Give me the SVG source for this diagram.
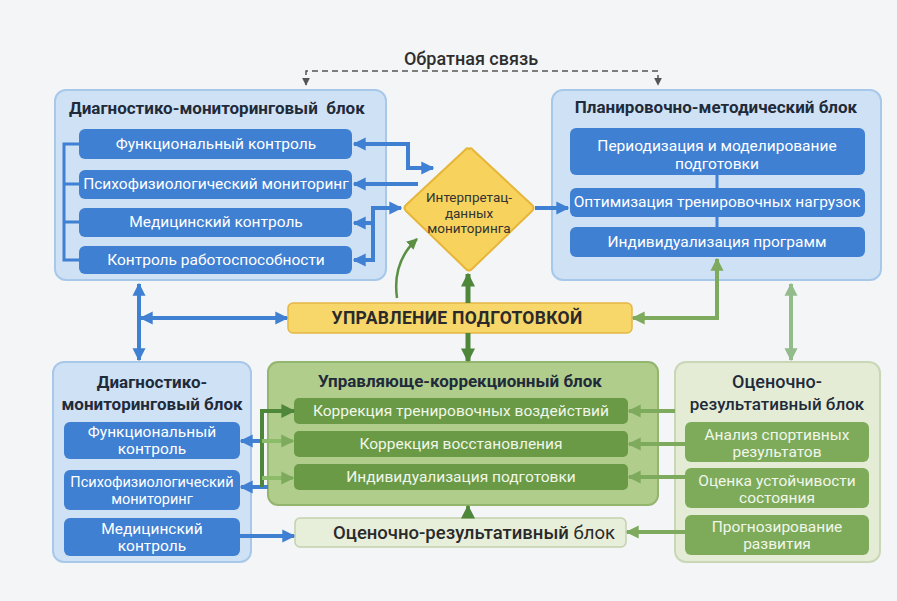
<svg xmlns="http://www.w3.org/2000/svg" width="897" height="601" viewBox="0 0 897 601">
<defs>
<style>
text{font-family:Roboto,"Open Sans","DejaVu Sans",sans-serif;text-anchor:middle}
.ttl{font-size:17px;font-weight:700;fill:#1f2b3a}
.it{font-size:15.5px;fill:#ffffff}
.itg{font-size:15.5px;fill:#f1f6ea}
.blueBlock{fill:#cfe1f5;stroke:#a8c8ea;stroke-width:2}
.blueItem{fill:#3f80d3}
.bl{fill:none;stroke:#3f80d3;stroke-width:4}
.dg{fill:none;stroke:#4f873a;stroke-width:5}
.lg{fill:none;stroke:#7daa5c;stroke-width:4}
</style>
<marker id="ab" viewBox="0 0 10 10" refX="9" refY="5" markerWidth="13" markerHeight="14" markerUnits="userSpaceOnUse" orient="auto-start-reverse"><path d="M0,0 L10,5 L0,10 Z" fill="#3f80d3"/></marker>
<marker id="adg" viewBox="0 0 10 10" refX="9" refY="5" markerWidth="14" markerHeight="15" markerUnits="userSpaceOnUse" orient="auto-start-reverse"><path d="M0,0 L10,5 L0,10 Z" fill="#4f873a"/></marker>
<marker id="adg2" viewBox="0 0 10 10" refX="9" refY="5" markerWidth="11" markerHeight="12" markerUnits="userSpaceOnUse" orient="auto-start-reverse"><path d="M0,0 L10,5 L0,10 Z" fill="#5a8f44"/></marker>
<marker id="alg" viewBox="0 0 10 10" refX="9" refY="5" markerWidth="13" markerHeight="14" markerUnits="userSpaceOnUse" orient="auto-start-reverse"><path d="M0,0 L10,5 L0,10 Z" fill="#7daa5c"/></marker>
<marker id="alg2" viewBox="0 0 10 10" refX="9" refY="5" markerWidth="13" markerHeight="14" markerUnits="userSpaceOnUse" orient="auto-start-reverse"><path d="M0,0 L10,5 L0,10 Z" fill="#93bb8c"/></marker>
<marker id="agr" viewBox="0 0 10 10" refX="9" refY="5" markerWidth="8" markerHeight="9" markerUnits="userSpaceOnUse" orient="auto-start-reverse"><path d="M0,0 L10,5 L0,10 Z" fill="#555"/></marker>
</defs>
<rect x="0" y="0" width="897" height="601" fill="#f4f5f7"/>

<text x="471" y="65" style="font-size:18px;font-weight:500;fill:#2e2e2e">Обратная связь</text>

<!-- Top-left block -->
<g id="diag-top">
<rect class="blueBlock" x="55" y="90" width="331" height="190" rx="11"/>
<text class="ttl" x="69" y="114" style="text-anchor:start;white-space:pre">Диагностико-мониторинговый  блок</text>
<g id="diag-top-1"><rect class="blueItem" x="79" y="129" width="273" height="30" rx="6"/><text class="it" x="216" y="149">Функциональный контроль</text></g>
<g id="diag-top-2"><rect class="blueItem" x="79" y="170" width="273" height="29" rx="6"/><text class="it" x="216" y="189">Психофизиологический мониторинг</text></g>
<g id="diag-top-3"><rect class="blueItem" x="79" y="208" width="273" height="29" rx="6"/><text class="it" x="216" y="227">Медицинский контроль</text></g>
<g id="diag-top-4"><rect class="blueItem" x="79" y="246" width="273" height="28" rx="6"/><text class="it" x="216" y="265">Контроль работоспособности</text></g>
</g>

<!-- Diamond -->
<g id="interp">
<path d="M469,149 Q471,147 473,150 L532,205 Q535,208 532,211 L472,269 Q469,272 466,269 L406,211 Q403,208 406,205 L465,150 Q467,147 469,149 Z" fill="#f7d25c" stroke="#e6b63a" stroke-width="2"/>
<text x="469" y="202" style="font-size:13.5px;fill:#333">Интерпретац-</text>
<text x="469" y="218" style="font-size:13.5px;fill:#333">данных</text>
<text x="469" y="233" style="font-size:13.5px;fill:#333">мониторинга</text>
</g>

<!-- Top-right block -->
<g id="plan">
<rect class="blueBlock" x="552" y="90" width="329" height="190" rx="11"/>
<text class="ttl" x="716" y="113">Планировочно-методический блок</text>
<line x1="717" y1="170" x2="717" y2="232" stroke="#3f80d3" stroke-width="3"/>
<g id="plan-1"><rect class="blueItem" x="570" y="128" width="295" height="47" rx="6"/><text class="it" x="717" y="151">Периодизация и моделирование</text><text class="it" x="717" y="169">подготовки</text></g>
<g id="plan-2"><rect class="blueItem" x="570" y="188" width="295" height="29" rx="6"/><text class="it" x="717" y="207">Оптимизация тренировочных нагрузок</text></g>
<g id="plan-3"><rect class="blueItem" x="570" y="227" width="295" height="30" rx="6"/><text class="it" x="717" y="247">Индивидуализация программ</text></g>
</g>

<!-- Middle bar -->
<g id="control">
<rect x="288" y="303" width="344" height="30" rx="5" fill="#f7d66a" stroke="#e4b746" stroke-width="1.5"/>
<text x="457" y="324" style="font-size:17.5px;font-weight:700;fill:#2a2a2a;letter-spacing:0.3px">УПРАВЛЕНИЕ ПОДГОТОВКОЙ</text>
</g>

<!-- Bottom-left block -->
<g id="diag-bottom">
<rect class="blueBlock" x="53" y="362" width="198" height="200" rx="11"/>
<text class="ttl" x="152" y="388">Диагностико-</text>
<text class="ttl" x="152" y="410">мониторинговый блок</text>
<g id="diag-bottom-1"><rect class="blueItem" x="64" y="422" width="176" height="37" rx="6"/><text class="it" x="152" y="437">Функциональный</text><text class="it" x="152" y="454">контроль</text></g>
<g id="diag-bottom-2"><rect class="blueItem" x="64" y="470" width="176" height="40" rx="6"/><text class="it" x="152" y="487" style="font-size:14.5px">Психофизиологический</text><text class="it" x="152" y="504" style="font-size:14.5px">мониторинг</text></g>
<g id="diag-bottom-3"><rect class="blueItem" x="64" y="518" width="176" height="38" rx="6"/><text class="it" x="152" y="534">Медицинский</text><text class="it" x="152" y="551">контроль</text></g>
</g>

<!-- Center block -->
<g id="correction">
<rect x="268" y="362" width="390" height="143" rx="10" fill="#b1cd8c" stroke="#94b56e" stroke-width="2"/>
<text class="ttl" x="460" y="387">Управляюще-коррекционный блок</text>
<g id="corr-1"><rect x="294" y="398" width="334" height="26" rx="5" fill="#6a9a45"/><text class="itg" x="461" y="416">Коррекция тренировочных воздействий</text></g>
<g id="corr-2"><rect x="294" y="431" width="334" height="26" rx="5" fill="#6a9a45"/><text class="itg" x="461" y="449">Коррекция восстановления</text></g>
<g id="corr-3"><rect x="294" y="464" width="334" height="26" rx="5" fill="#6a9a45"/><text class="itg" x="461" y="482">Индивидуализация подготовки</text></g>
</g>

<!-- Bottom bar -->
<g id="eval-bar">
<rect x="295" y="518" width="331" height="29" rx="5" fill="#e7eed9" stroke="#c3d1ad" stroke-width="1.5"/>
<text x="474" y="539" style="font-size:18.5px;fill:#2a2a2a"><tspan style="font-weight:500">Оценочно-результативный</tspan> блок</text>
</g>

<!-- Bottom-right block -->
<g id="eval">
<rect x="675" y="362" width="205" height="200" rx="11" fill="#e4ecd6" stroke="#cad7b6" stroke-width="2"/>
<text class="ttl" x="777" y="388" style="font-weight:500;font-size:18px">Оценочно-</text>
<text class="ttl" x="777" y="410" style="font-weight:500;font-size:17px">результативный блок</text>
<g id="eval-1"><rect x="685" y="422" width="184" height="40" rx="6" fill="#7eab5a"/><text class="itg" x="777" y="440">Анализ спортивных</text><text class="itg" x="777" y="457">результатов</text></g>
<g id="eval-2"><rect x="685" y="468" width="184" height="40" rx="6" fill="#7eab5a"/><text class="itg" x="777" y="486">Оценка устойчивости</text><text class="itg" x="777" y="503">состояния</text></g>
<g id="eval-3"><rect x="685" y="515" width="184" height="40" rx="6" fill="#7eab5a"/><text class="itg" x="777" y="532">Прогнозирование</text><text class="itg" x="777" y="549">развития</text></g>
</g>

<!-- Connectors -->
<g id="connectors">
<path d="M306,85 V71 H658 V85" fill="none" stroke="#555" stroke-width="1.5" stroke-dasharray="6 4" marker-start="url(#agr)" marker-end="url(#agr)"/>
<path d="M79,144 H64 V260 H79 M64,184 H79 M64,222 H79" fill="none" stroke="#3f80d3" stroke-width="3"/>
<path class="bl" d="M354,144 H408 V168 H433" marker-start="url(#ab)" marker-end="url(#ab)"/>
<path class="bl" d="M418,184 H354" marker-end="url(#ab)"/>
<path class="bl" d="M373,223 H354" marker-end="url(#ab)"/>
<path class="bl" d="M373,260 H354" marker-end="url(#ab)"/>
<path class="bl" d="M373,262 V208 H401" marker-end="url(#ab)"/>
<path class="bl" d="M535,208 H568" marker-end="url(#ab)"/>
<path class="bl" d="M139,284 V360" marker-start="url(#ab)" marker-end="url(#ab)"/>
<path class="bl" d="M141,318 H287" marker-start="url(#ab)" marker-end="url(#ab)"/>
<path class="bl" d="M270,441 H241" marker-end="url(#ab)"/>
<path class="bl" d="M268,487 H241" marker-end="url(#ab)"/>
<path class="bl" d="M240,536 H294" marker-end="url(#ab)"/>
<path class="dg" d="M468,303 V274" marker-end="url(#adg)"/>
<path class="dg" d="M468,333 V361" marker-end="url(#adg)"/>
<path d="M397,298 Q392,262 417,239" fill="none" stroke="#5a8f44" stroke-width="2.5" marker-end="url(#adg2)"/>
<path class="dg" style="stroke-width:4" d="M262,487 V411 H294" marker-end="url(#adg)"/>
<path class="lg" style="stroke:#8cbb6a" d="M262,441 H293" marker-end="url(#alg)"/>
<path class="lg" style="stroke:#8cbb6a" d="M262,478 H293" marker-end="url(#alg)"/>
<path class="lg" d="M633,318 H717 V259" marker-start="url(#alg)" marker-end="url(#alg)"/>
<path class="lg" style="stroke:#93bb8c" d="M791,284 V360" marker-start="url(#alg2)" marker-end="url(#alg2)"/>
<path class="lg" d="M675,411 H629" marker-end="url(#alg)"/>
<path class="lg" d="M685,444 H629" marker-end="url(#alg)"/>
<path class="lg" d="M685,477 H629" marker-end="url(#alg)"/>
<path class="lg" d="M685,532 H627" marker-end="url(#alg)"/>
<path class="lg" style="stroke:#6a9a45" d="M468,518 V506" marker-end="url(#adg)"/>
</g>
</svg>
